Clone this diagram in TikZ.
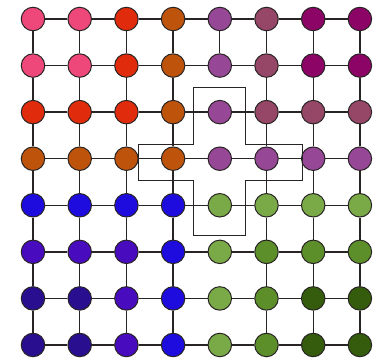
\documentclass[tikz,border=0pt]{standalone}
\usetikzlibrary{backgrounds}
\definecolor{pk}{RGB}{238,72,122}
\definecolor{rd}{RGB}{224,44,12}
\definecolor{br}{RGB}{190,84,12}
\definecolor{pu}{RGB}{150,72,150}
\definecolor{mv}{RGB}{150,70,102}
\definecolor{mg}{RGB}{140,4,102}
\definecolor{bl}{RGB}{30,12,222}
\definecolor{vi}{RGB}{72,12,190}
\definecolor{db}{RGB}{42,14,144}
\definecolor{lg}{RGB}{122,170,72}
\definecolor{mgr}{RGB}{92,142,42}
\definecolor{dg}{RGB}{52,92,12}
\definecolor{edgec}{RGB}{40,36,36}
\tikzset{
  dot/.style={circle, draw=edgec, line width=1pt, minimum size=23.5pt, inner sep=0pt},
  link/.style={draw=edgec, line width=1.3pt},
  region/.style={draw=edgec, line width=0.9pt}
}
\begin{document}
\begin{tikzpicture}[x=1pt,y=-1pt]
\useasboundingbox (0,0) rectangle (380,358);
\foreach \rowcols [count=\r from 0] in {
  {pk,pk,rd,br,pu,mv,mg,mg},
  {pk,pk,rd,br,pu,mv,mg,mg},
  {rd,rd,rd,br,pu,mv,mv,mv},
  {br,br,br,br,pu,pu,pu,pu},
  {bl,bl,bl,bl,lg,lg,lg,lg},
  {vi,vi,vi,bl,lg,mgr,mgr,mgr},
  {db,db,vi,bl,lg,mgr,dg,dg},
  {db,db,vi,bl,lg,mgr,dg,dg}} {
  \foreach \cl [count=\c from 0] in \rowcols {
    \node[dot, fill=\cl] (n\r-\c) at ({33+46.7*\c},{19+46.57*\r}) {};
  }
}
\begin{scope}[on background layer]
\fill[white] (0,0) rectangle (380,358);
\foreach \r in {0,...,7} {
  \foreach \c in {0,...,6} {
    \pgfmathtruncatemacro{\cn}{\c+1}
    \draw[link] (n\r-\c) -- (n\r-\cn);
  }
}
\foreach \r in {0,...,6} {
  \pgfmathtruncatemacro{\rn}{\r+1}
  \foreach \c in {0,...,7} {
    \pgfmathtruncatemacro{\skip}{(\c==4 && \r>0) ? 1 : 0}
    \ifnum\skip=0
      \draw[link] (n\r-\c) -- (n\rn-\c);
    \fi
  }
}
\end{scope}
\draw[region] (193,87) -- (245,87) -- (245,144) -- (302,144) -- (302,180)
  -- (245,180) -- (245,235) -- (193,235) -- (193,180) -- (138,180)
  -- (138,144) -- (193,144) -- cycle;
\end{tikzpicture}
\end{document}
